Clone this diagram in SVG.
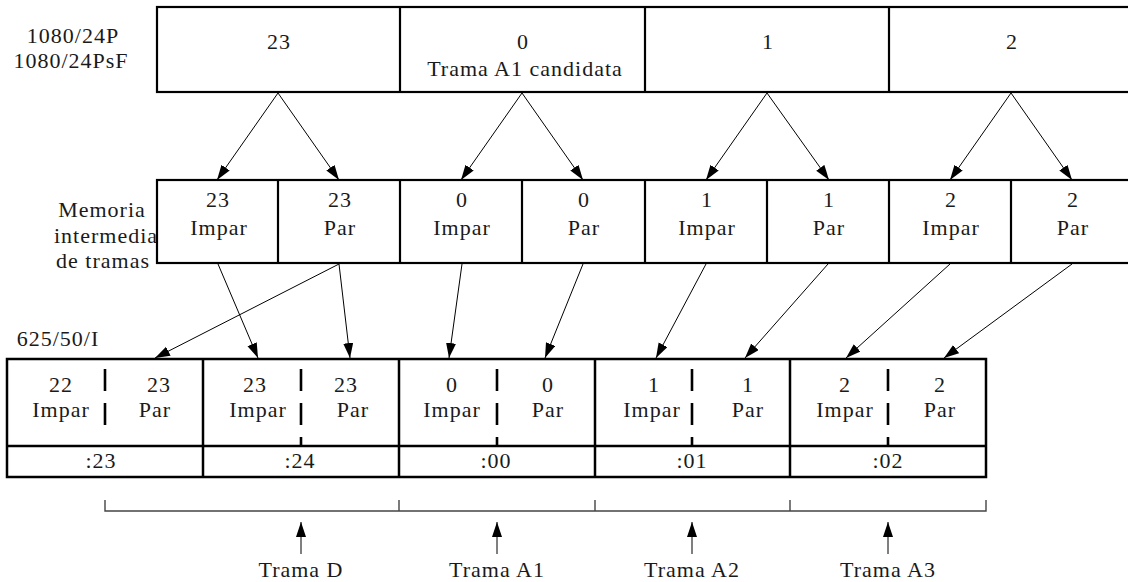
<svg xmlns="http://www.w3.org/2000/svg" width="1128" height="582" viewBox="0 0 1128 582">
<defs>
<marker id="ah" markerUnits="userSpaceOnUse" markerWidth="16" markerHeight="12" refX="15" refY="5" orient="auto">
<path d="M0,0 L15,5 L0,10 z" fill="#000"/>
</marker>
<style>
text{font-family:"Liberation Serif","Times New Roman",serif;font-size:22px;letter-spacing:1px;fill:#1a1a1a;text-anchor:middle}
.box{fill:#fff;stroke:#000;stroke-width:2.2}
.ln{stroke:#000;stroke-width:2.2;fill:none}
.dash{stroke:#000;stroke-width:2.6;stroke-dasharray:22 12;fill:none}
.arr{stroke:#000;stroke-width:1;fill:none;marker-end:url(#ah)}
.br{stroke:#444;stroke-width:1.4;fill:none}
</style>
</defs>
<rect width="1128" height="582" fill="#fff"/>

<g id="labels">
<text x="73" y="43">1080/24P</text>
<text x="71" y="68">1080/24PsF</text>
<text x="102" y="217">Memoria</text>
<text x="106" y="243">intermedia</text>
<text x="103" y="268">de tramas</text>
<text x="58" y="346">625/50/I</text>
</g>

<g id="top-row">
<rect class="box" x="157" y="7" width="976" height="85"/>
<line class="ln" x1="400" y1="7" x2="400" y2="92"/>
<line class="ln" x1="645" y1="7" x2="645" y2="92"/>
<line class="ln" x1="889" y1="7" x2="889" y2="92"/>
<text x="279" y="49">23</text>
<text x="523" y="49">0</text>
<text x="525" y="76">Trama A1 candidata</text>
<text x="768" y="49">1</text>
<text x="1012" y="49">2</text>
</g>

<g id="buffer-row">
<rect class="box" x="157" y="180" width="976" height="83"/>
<line class="ln" x1="278" y1="180" x2="278" y2="263"/>
<line class="ln" x1="400" y1="180" x2="400" y2="263"/>
<line class="ln" x1="522" y1="180" x2="522" y2="263"/>
<line class="ln" x1="645" y1="180" x2="645" y2="263"/>
<line class="ln" x1="767" y1="180" x2="767" y2="263"/>
<line class="ln" x1="889" y1="180" x2="889" y2="263"/>
<line class="ln" x1="1011" y1="180" x2="1011" y2="263"/>
<text x="218" y="207">23</text><text x="219" y="235">Impar</text>
<text x="340" y="207">23</text><text x="340" y="235">Par</text>
<text x="462" y="207">0</text><text x="462" y="235">Impar</text>
<text x="584" y="207">0</text><text x="584" y="235">Par</text>
<text x="707" y="207">1</text><text x="707" y="235">Impar</text>
<text x="829" y="207">1</text><text x="829" y="235">Par</text>
<text x="951" y="207">2</text><text x="951" y="235">Impar</text>
<text x="1073" y="207">2</text><text x="1073" y="235">Par</text>
</g>

<g id="out-row">
<rect class="box" x="7" y="359" width="979" height="118" style="stroke-width:2.5"/>
<line class="ln" x1="7" y1="446" x2="986" y2="446" style="stroke-width:2.5"/>
<line class="ln" x1="203" y1="359" x2="203" y2="477" style="stroke-width:2.5"/>
<line class="ln" x1="399" y1="359" x2="399" y2="477" style="stroke-width:2.5"/>
<line class="ln" x1="595" y1="359" x2="595" y2="477" style="stroke-width:2.5"/>
<line class="ln" x1="790" y1="359" x2="790" y2="477" style="stroke-width:2.5"/>
<line class="dash" x1="105" y1="369" x2="105" y2="425"/>
<line class="dash" x1="301" y1="369" x2="301" y2="446"/>
<line class="dash" x1="497" y1="369" x2="497" y2="446"/>
<line class="dash" x1="692" y1="369" x2="692" y2="446"/>
<line class="dash" x1="888" y1="369" x2="888" y2="446"/>
<text x="61" y="392">22</text><text x="61" y="417">Impar</text>
<text x="159" y="392">23</text><text x="155" y="417">Par</text>
<text x="255" y="392">23</text><text x="258" y="417">Impar</text>
<text x="346" y="392">23</text><text x="353" y="417">Par</text>
<text x="452" y="392">0</text><text x="452" y="417">Impar</text>
<text x="548" y="392">0</text><text x="548" y="417">Par</text>
<text x="654" y="392">1</text><text x="652" y="417">Impar</text>
<text x="748" y="392">1</text><text x="748" y="417">Par</text>
<text x="845" y="392">2</text><text x="845" y="417">Impar</text>
<text x="940" y="392">2</text><text x="940" y="417">Par</text>
<text x="101" y="468">:23</text>
<text x="300" y="468">:24</text>
<text x="496" y="468">:00</text>
<text x="692" y="468">:01</text>
<text x="888" y="468">:02</text>
</g>

<g id="bracket">
<path class="br" d="M105,500 V511 H986 V500 M399,500 V511 M595,500 V511 M790,500 V511"/>
</g>

<g id="frame-labels">
<text x="301" y="577">Trama D</text>
<text x="497" y="577">Trama A1</text>
<text x="692" y="577">Trama A2</text>
<text x="888" y="577">Trama A3</text>
</g>

<g id="connectors">
<line class="arr" x1="278" y1="93" x2="217" y2="180"/>
<line class="arr" x1="278" y1="93" x2="339" y2="180"/>
<line class="arr" x1="522" y1="93" x2="461" y2="180"/>
<line class="arr" x1="522" y1="93" x2="583" y2="180"/>
<line class="arr" x1="767" y1="93" x2="706" y2="180"/>
<line class="arr" x1="767" y1="93" x2="829" y2="180"/>
<line class="arr" x1="1011" y1="93" x2="950" y2="180"/>
<line class="arr" x1="1011" y1="93" x2="1072" y2="180"/>

<line class="arr" x1="218" y1="264" x2="258" y2="358"/>
<line class="arr" x1="339" y1="264" x2="350" y2="358"/>
<line class="arr" x1="339" y1="264" x2="155" y2="358"/>
<line class="arr" x1="462" y1="264" x2="449" y2="358"/>
<line class="arr" x1="583" y1="264" x2="545" y2="358"/>
<line class="arr" x1="706" y1="264" x2="656" y2="358"/>
<line class="arr" x1="828" y1="264" x2="745" y2="358"/>
<line class="arr" x1="950" y1="264" x2="846" y2="358"/>
<line class="arr" x1="1072" y1="264" x2="944" y2="358"/>

<line class="arr" x1="301" y1="554" x2="301" y2="522"/>
<line class="arr" x1="497" y1="554" x2="497" y2="522"/>
<line class="arr" x1="692" y1="554" x2="692" y2="522"/>
<line class="arr" x1="888" y1="554" x2="888" y2="522"/>
</g>
</svg>
